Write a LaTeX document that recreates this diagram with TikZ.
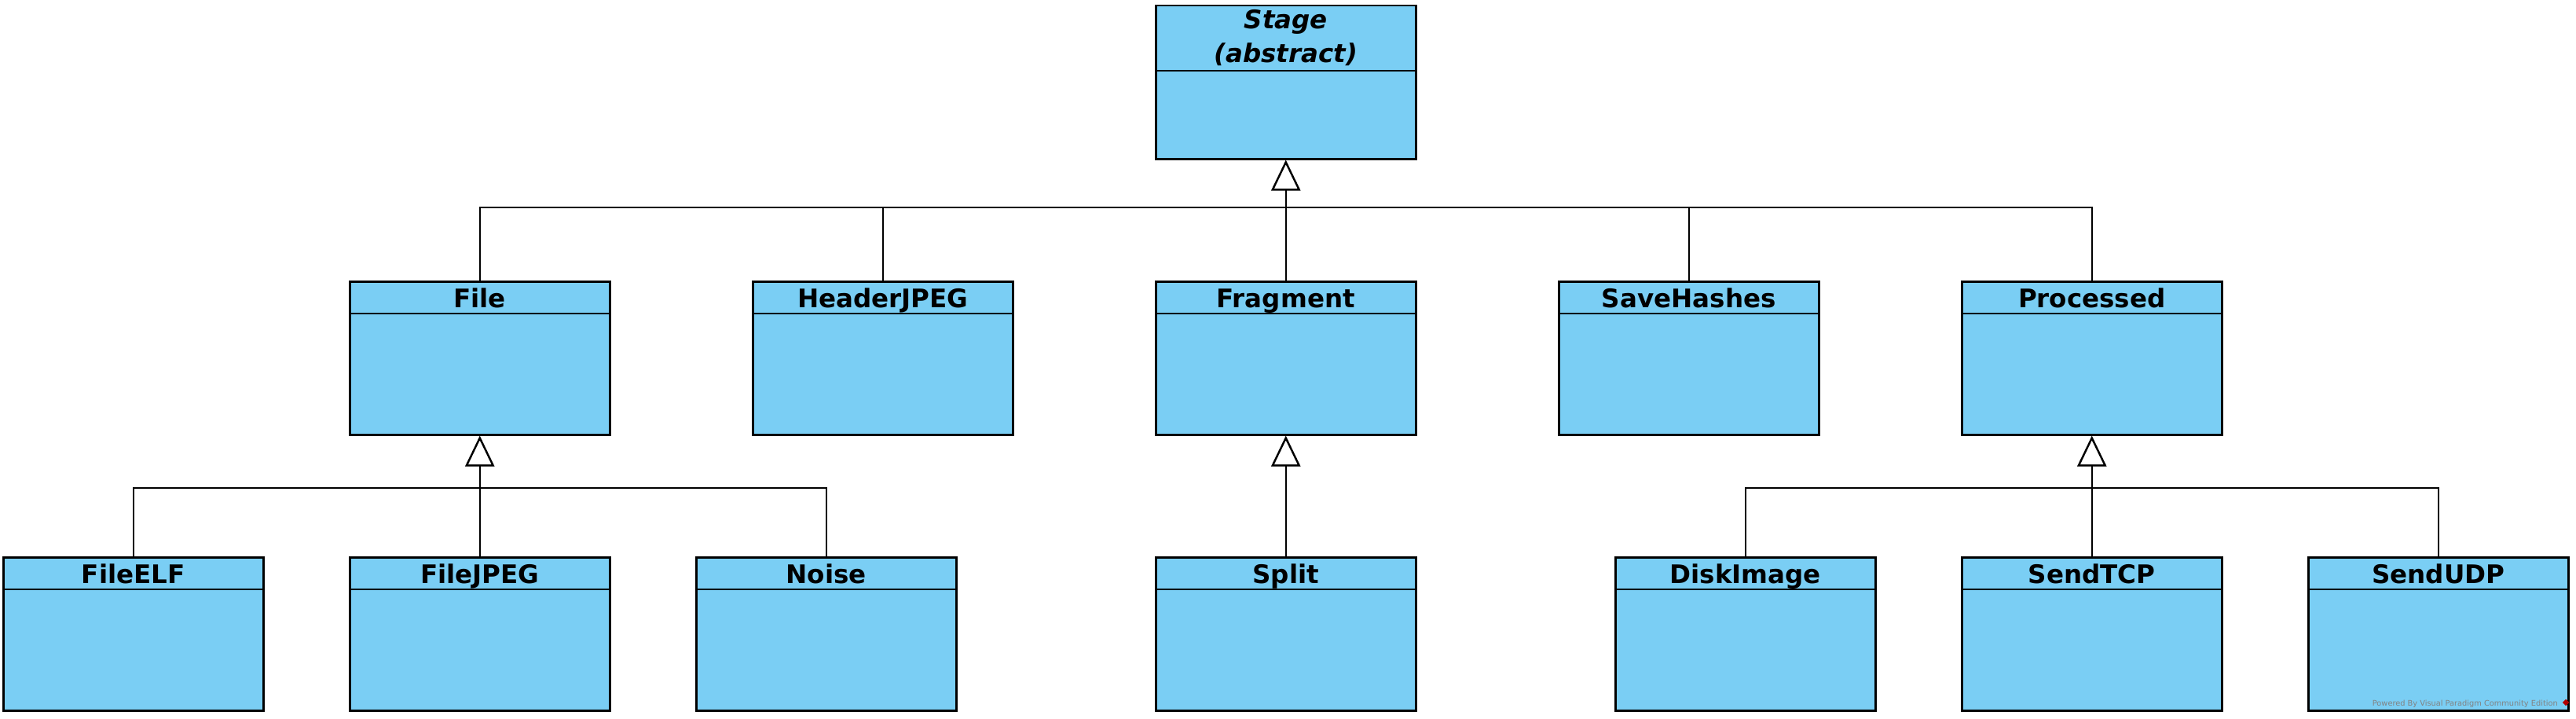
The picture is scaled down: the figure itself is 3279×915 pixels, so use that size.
\documentclass[tikz,border=0pt]{standalone}
\usepackage{fontspec}
\setmainfont{DejaVu Sans}
\usetikzlibrary{arrows.meta}
\definecolor{classblue}{RGB}{122,206,244}
\definecolor{vpgrey}{RGB}{130,130,130}

% class box: name, x, y (top left), header height, title
\newcommand{\umlclass}[5]{%
  \node[classbox] (#1) at (#2,#3) {};
  \draw ([yshift=-#4pt]#1.north west) -- ([yshift=-#4pt]#1.north east);
  \node[classname] (#1title) at ([yshift=-34pt]#1.north) {#5};
}

\begin{document}
\begin{tikzpicture}[x=1pt,y=-1pt,line width=2.5pt,
    classbox/.style={draw,fill=classblue,anchor=north west,inner sep=0pt,
      minimum width=331pt,minimum height=195pt},
    classname/.style={anchor=base,inner sep=0pt,font=\fontsize{32.5}{43}\selectfont\bfseries},
    inherit/.style={-{Triangle[open,length=39pt,width=37pt]}},
    watermark/.style={anchor=base east,inner sep=0pt,text=vpgrey,font=\fontsize{9.8}{11}\selectfont}]
  \useasboundingbox (0,0) rectangle (3279,915);

  % top
  \node[classbox] (Stage) at (1470,6) {};
  \draw ([yshift=-84pt]Stage.north west) -- ([yshift=-84pt]Stage.north east);
  \node[classname,align=center] (Stagetitle) at ([yshift=-74pt]Stage.north)
    {\itshape Stage\\\itshape (abstract)};

  % first level
  \umlclass{File}{444}{357}{42}{File}
  \umlclass{HeaderJPEG}{957}{357}{42}{HeaderJPEG}
  \umlclass{Fragment}{1470}{357}{42}{Fragment}
  \umlclass{SaveHashes}{1983}{357}{42}{SaveHashes}
  \umlclass{Processed}{2496}{357}{42}{Processed}

  % second level
  \umlclass{FileELF}{3}{708}{42}{FileELF}
  \umlclass{FileJPEG}{444}{708}{42}{FileJPEG}
  \umlclass{Noise}{885}{708}{42}{Noise}
  \umlclass{Split}{1470}{708}{42}{Split}
  \umlclass{DiskImage}{2055}{708}{42}{DiskImage}
  \umlclass{SendTCP}{2496}{708}{42}{SendTCP}
  \umlclass{SendUDP}{2937}{708}{42}{SendUDP}

  \coordinate (bus1) at (0,264);
  \coordinate (bus2) at (0,621);

  \begin{scope}[line cap=rect]
    \draw (File.north) |- (Processed.north |- bus1) -- (Processed.north);
    \draw (HeaderJPEG.north) -- (HeaderJPEG.north |- bus1);
    \draw (SaveHashes.north) -- (SaveHashes.north |- bus1);
    \draw (FileELF.north) |- (Noise.north |- bus2) -- (Noise.north);
    \draw (DiskImage.north) |- (SendUDP.north |- bus2) -- (SendUDP.north);
  \end{scope}
  \draw[inherit] (Fragment.north) to (Stage.south);
  \draw[inherit] (FileJPEG.north) to (File.south);
  \draw[inherit] (Split.north) to (Fragment.south);
  \draw[inherit] (SendTCP.north) to (Processed.south);

  \node[watermark] (vp) at (3257,898) {Powered By Visual Paradigm Community Edition};
  \node[fill=red!70!black,rotate=45,minimum size=6pt,inner sep=0pt] (vplogo) at (3266,894) {};
\end{tikzpicture}
\end{document}
